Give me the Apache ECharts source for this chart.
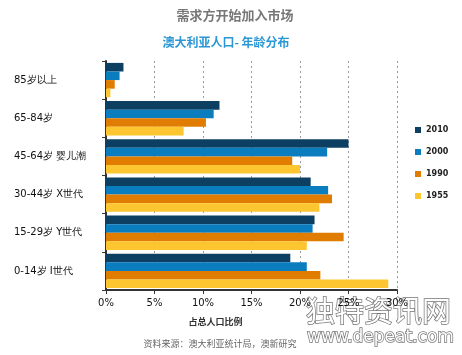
<!DOCTYPE html>
<html>
<head>
<meta charset="utf-8">
<script src="https://cdn.jsdelivr.net/npm/echarts@6/dist/echarts.min.js"></script>
<style>
  html, body { margin: 0; padding: 0; background: #fff; }
  #main { width: 462px; height: 355px; }
</style>
</head>
<body>
<div id="main"></div>
<script>
// age groups, top to bottom
var categories = ['85岁以上', '65-84岁', '45-64岁 婴儿潮', '30-44岁 X世代', '15-29岁 Y世代', '0-14岁 I世代'];
var years = ['2010', '2000', '1990', '1955'];
var s2010 = [1.8, 11.7, 25.0, 21.1, 21.5, 19.0];
var s2000 = [1.4, 11.1, 22.8, 22.9, 21.3, 20.7];
var s1990 = [0.9, 10.3, 19.2, 23.3, 24.5, 22.1];
var s1955 = [0.45, 8.0, 20.0, 22.0, 20.7, 29.1];
var colors = ['#0c3f62', '#0a7dbf', '#e07c00', '#fdc52f'];

var chart = echarts.init(document.getElementById('main'));

var seriesData = [s2010, s2000, s1990, s1955];
var series = [];
for (var i = 0; i < years.length; i++) {
  series.push({
    name: years[i],
    type: 'bar',
    data: seriesData[i],
    barGap: '0%',
    barCategoryGap: '10%',
    itemStyle: { color: colors[i] }
  });
}

var option = {
  animation: false,
  color: colors,
  title: [{
    text: '需求方开始加入市场',
    left: 230, top: 4, textAlign: 'center',
    textStyle: { color: '#777', fontSize: 13, fontWeight: 'bold', fontFamily: 'Noto Sans CJK SC' }
  }, {
    text: '澳大利亚人口- 年龄分布',
    left: 221, top: 31, textAlign: 'center',
    textStyle: { color: '#2b97d4', fontSize: 12, fontWeight: 'bold', fontFamily: 'Noto Sans CJK SC' }
  }],
  legend: {
    data: years,
    orient: 'vertical',
    left: 410, top: 121,
    itemWidth: 6, itemHeight: 6, itemGap: 14,
    icon: 'rect',
    textStyle: { fontSize: 8, fontWeight: 'bold', color: '#222', fontFamily: 'DejaVu Sans' }
  },
  grid: { left: 106, right: 65, top: 61, bottom: 65 },
  xAxis: {
    type: 'value',
    min: 0, max: 30, interval: 5,
    name: '占总人口比例',
    nameLocation: 'middle',
    nameGap: 27,
    nameTextStyle: { fontSize: 9, fontWeight: 'bold', color: '#333', fontFamily: 'Noto Sans CJK SC', padding: [0, 0, 0, -72] },
    axisLine: { show: true, lineStyle: { color: '#333', width: 2 } },
    axisTick: { show: true, length: 4, lineStyle: { color: '#333' } },
    axisLabel: { formatter: '{value}%', fontSize: 10, color: '#111', fontFamily: 'DejaVu Sans', margin: 8 },
    splitLine: { show: true, lineStyle: { color: '#999', type: [2, 3] } }
  },
  yAxis: {
    type: 'category',
    data: categories,
    inverse: true,
    axisLine: { show: true, lineStyle: { color: '#333', width: 2 } },
    axisTick: { show: true, length: 4, lineStyle: { color: '#333' } },
    axisLabel: { align: 'left', margin: 92, fontSize: 10, color: '#111', fontFamily: 'DejaVu Sans' },
    splitLine: { show: false }
  },
  series: series,
  graphic: [{
    type: 'text',
    x: 220, y: 339,
    style: {
      text: '资料来源：澳大利亚统计局，澳新研究',
      fontSize: 9, fill: '#666', fontFamily: 'Noto Sans CJK SC', align: 'center', textAlign: 'center'
    }
  }, {
    type: 'text',
    x: 306, y: 296,
    style: {
      text: '独特资讯网',
      fontSize: 29, fill: '#fff', stroke: '#777', lineWidth: 1.5, fontFamily: 'Noto Sans CJK SC'
    }
  }, {
    type: 'text',
    x: 307, y: 329,
    style: {
      text: 'www.depeat.com',
      fontSize: 17, fill: '#fff', stroke: '#777', lineWidth: 1.5, fontFamily: 'DejaVu Sans'
    }
  }]
};

chart.setOption(option);
</script>
</body>
</html>
